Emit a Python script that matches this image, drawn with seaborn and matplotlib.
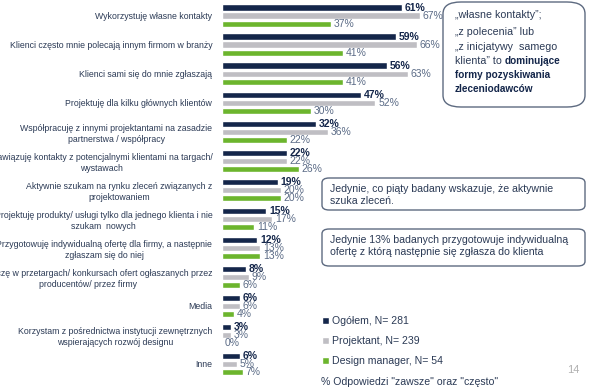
import pandas as pd
import seaborn as sns
import matplotlib.pyplot as plt
from matplotlib.patches import FancyBboxPatch

# kategorie i wyniki (% odpowiedzi "zawsze" oraz "często")
categories = [
    "Wykorzystuję własne kontakty",
    "Klienci często mnie polecają innym firmom w branży",
    "Klienci sami się do mnie zgłaszają",
    "Projektuję dla kilku głównych klientów",
    "Współpracuję z innymi projektantami na zasadzie\npartnerstwa / współpracy",
    "Nawiązuję kontakty z potencjalnymi klientami na targach/\nwystawach",
    "Aktywnie szukam na rynku zleceń związanych z\nprojektowaniem",
    "Projektuję produkty/ usługi tylko dla jednego klienta i nie\nszukam  nowych",
    "Przygotowuję indywidualną ofertę dla firmy, a następnie\nzgłaszam się do niej",
    "Uczestniczę w przetargach/ konkursach ofert ogłaszanych przez\nproducentów/ przez firmy",
    "Media",
    "Korzystam z pośrednictwa instytucji zewnętrznych\nwspierających rozwój designu",
    "Inne",
]
groups = ["Ogółem, N= 281", "Projektant, N= 239", "Design manager, N= 54"]
ogolem = [61, 59, 56, 47, 32, 22, 19, 15, 12, 8, 6, 3, 6]
projektant = [67, 66, 63, 52, 36, 22, 20, 17, 13, 9, 6, 3, 5]
design_manager = [37, 41, 41, 30, 22, 26, 20, 11, 13, 6, 4, 0, 7]

navy = "#14264a"
grey = "#bfbec3"
green = "#6cb52d"
txt = "#2b3a55"
valcol = "#5b6b86"

rows = []
for g, vals in zip(groups, [ogolem, projektant, design_manager]):
    for c, v in zip(categories, vals):
        rows.append({"kategoria": c, "grupa": g, "wartosc": v})
df = pd.DataFrame(rows)

sns.set_style("white")
plt.rcParams["font.family"] = ["Liberation Sans", "DejaVu Sans"]

fig = plt.figure(figsize=(6, 3.91), dpi=100)
ax = fig.add_axes([222 / 600, 0.032, (517 - 222) / 600, 0.965])

sns.barplot(data=df, y="kategoria", x="wartosc", hue="grupa", order=categories,
            hue_order=groups, palette=[navy, grey, green], orient="h",
            width=0.83, gap=0.2, saturation=1, ax=ax, legend=True)

for i, cont in enumerate(ax.containers):
    ax.bar_label(cont, fmt="%d%%", padding=2, fontsize=7.5,
                 color=navy if i == 0 else valcol,
                 fontweight="bold" if i == 0 else "normal")

ax.set_xlim(0, 100)
ax.set_ylim(12.5, -0.5)
ax.set_xlabel("")
ax.set_ylabel("")
ax.set_xticks([])
for s in ax.spines.values():
    s.set_visible(False)
ax.tick_params(axis="y", length=0, pad=7)
for lab in ax.get_yticklabels():
    lab.set_fontsize(6.3)
    lab.set_color(txt)
    lab.set_multialignment("center")
    lab.set_linespacing(1.35)

leg = ax.legend(loc="upper left", bbox_to_anchor=(322 / 600, 1 - 316 / 391),
                bbox_transform=fig.transFigure, frameon=False, fontsize=7.6,
                handlelength=0.7, handleheight=0.7, handletextpad=0.25,
                labelspacing=0.95, borderaxespad=0, borderpad=0)
for t in leg.get_texts():
    t.set_color(txt)

fig.text(321 / 600, 1 - 382 / 391, '% Odpowiedzi "zawsze" oraz "często"',
         fontsize=7.6, color=txt, va="center")
fig.text(567 / 600, 1 - 370 / 391, "14", fontsize=8, color="#b0b0b0", va="center")

# ramki z komentarzami
def box(x0, y0, x1, y1, r=0.012):
    p = FancyBboxPatch((x0 / 600, 1 - y1 / 391), (x1 - x0) / 600, (y1 - y0) / 391,
                       boxstyle="round,pad=0,rounding_size=%f" % r,
                       transform=fig.transFigure, facecolor="white",
                       edgecolor="#5d6a80", linewidth=1.0)
    fig.patches.append(p)

box(443, 2, 585, 107, r=0.03)
box(322, 178, 585, 210)
box(322, 229, 585, 266)

bx = 455 / 600
lines1 = [(15, "„własne kontakty”;"),
          (32, "„z polecenia” lub"),
          (47, "„z inicjatywy  samego")]
for y, s in lines1:
    fig.text(bx, 1 - y / 391, s, fontsize=7.7, color=txt, va="center")
t = fig.text(bx, 1 - 61 / 391, "klienta” to ", fontsize=7.7, color=txt, va="center")
fig.canvas.draw()
bb = t.get_window_extent()
fig.text(bb.x1 / 600, 1 - 61 / 391, "dominujące", fontsize=7.2, color=navy,
         fontweight="bold", va="center")
fig.text(bx, 1 - 75 / 391, "formy pozyskiwania", fontsize=7.2, color=navy,
         fontweight="bold", va="center")
fig.text(bx, 1 - 89 / 391, "zleceniodawców", fontsize=7.2, color=navy,
         fontweight="bold", va="center")

fig.text(330 / 600, 1 - 195 / 391,
         "Jedynie, co piąty badany wskazuje, że aktywnie\nszuka zleceń.",
         fontsize=7.6, color=txt, va="center", linespacing=1.35)
fig.text(330 / 600, 1 - 246 / 391,
         "Jedynie 13% badanych przygotowuje indywidualną\nofertę z którą następnie się zgłasza do klienta",
         fontsize=7.6, color=txt, va="center", linespacing=1.35)

fig.savefig("out.png", dpi=100)
